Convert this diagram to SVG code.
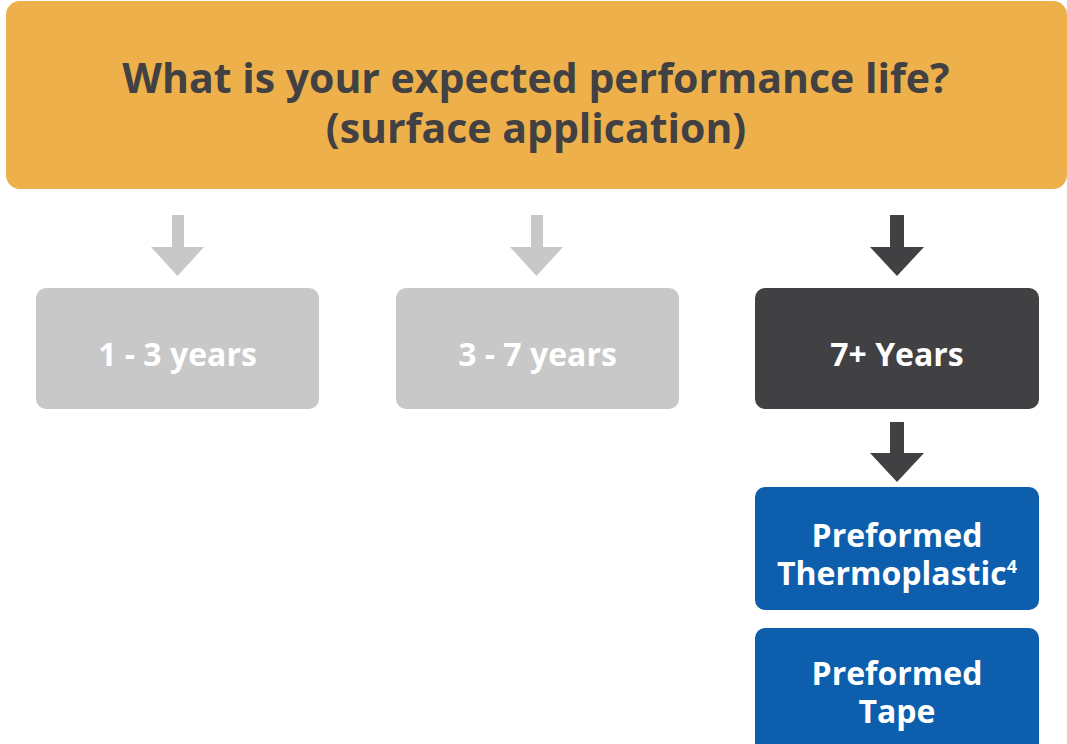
<svg xmlns="http://www.w3.org/2000/svg" width="1067" height="744" viewBox="0 0 1067 744">
<style>
text{font-family:"Open Sans","Noto Sans","Liberation Sans",sans-serif;font-weight:700;text-anchor:middle}
.title{font-size:41px;fill:#414042}
.lbl{font-size:32px;fill:#ffffff}
.gray{fill:#c8c8c8}
.dark{fill:#414042}
.blue{fill:#0d5fad}
</style>
<rect width="1067" height="744" fill="#ffffff"/>
<g id="question">
<rect x="6" y="1" width="1061" height="188" rx="14" fill="#eeb04b"/>
<text class="title" x="536" y="93">What is your expected performance life?</text>
<text class="title" x="536" y="143">(surface application)</text>
</g>
<g id="connectors">
<path class="gray" d="M172 215H184V247H204L177.5 276L151 247H172Z"/>
<path class="gray" d="M531 215H543V247H563L536.5 276L510 247H531Z"/>
<path class="dark" d="M890 215H904V247H924L897 276L870 247H890Z"/>
<path class="dark" d="M890 422H904V453H924L897 482L870 453H890Z"/>
</g>
<g id="n1">
<rect class="gray" x="36" y="288" width="283" height="121" rx="10"/>
<text class="lbl" x="177.5" y="366">1 - 3 years</text>
</g>
<g id="n2">
<rect class="gray" x="396" y="288" width="283" height="121" rx="10"/>
<text class="lbl" x="537.5" y="366">3 - 7 years</text>
</g>
<g id="n3">
<rect class="dark" x="755" y="288" width="284" height="121" rx="10"/>
<text class="lbl" x="897" y="366">7+ Years</text>
</g>
<g id="n4">
<rect class="blue" x="755" y="487" width="284" height="123" rx="10"/>
<text class="lbl" x="897" y="547">Preformed</text>
<text class="lbl" x="897" y="585">Thermoplastic<tspan font-size="18" dy="-12">4</tspan></text>
</g>
<g id="n5">
<rect class="blue" x="755" y="628" width="284" height="125" rx="10"/>
<text class="lbl" x="897" y="685">Preformed</text>
<text class="lbl" x="897" y="723">Tape</text>
</g>
</svg>
